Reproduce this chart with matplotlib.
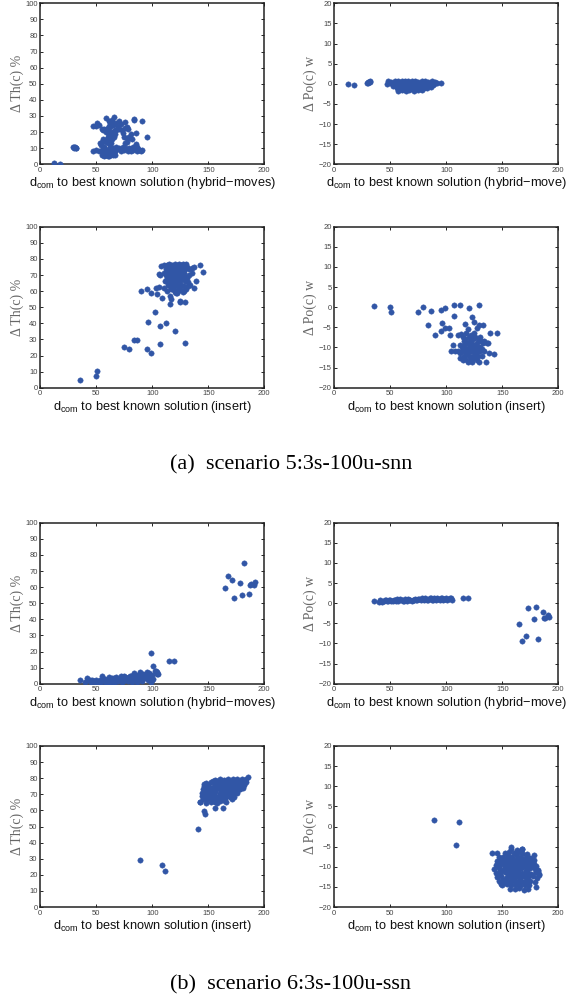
import matplotlib
matplotlib.use("Agg")
import matplotlib.pyplot as plt

plt.rcParams['mathtext.fontset'] = 'custom'
plt.rcParams['mathtext.rm'] = 'Liberation Sans'
plt.rcParams['mathtext.it'] = 'Liberation Sans'

# ---------------- data: scenario 5, hybrid-moves ----------------
a_hyb_th_x = [12, 18, 29.5, 30, 31, 32, 30.5, 31.5,
              47, 50, 52, 47, 50, 51, 52,
              55, 56, 57, 58, 59, 60, 61, 62, 63, 64, 65, 66, 62, 63, 64, 65, 60, 61, 58, 59, 60, 62, 63, 64,
              66, 67, 68, 69, 70, 56, 55, 57, 54, 53, 59, 61, 64, 66, 62, 67, 68,
              70, 72, 73, 74, 75, 76, 77, 78, 76, 77, 79, 80, 82, 76, 77, 81, 84, 84, 91, 95, 85, 85, 86, 83,
              55, 57, 59, 61, 63, 65, 66, 67, 69, 70, 72, 73, 74, 75, 77, 78, 80, 81, 83, 84, 86, 87, 88, 90,
              91, 62, 64, 68, 76, 79,
              55, 56, 57, 58, 59, 60, 61, 62, 63, 64, 65, 66, 67, 57, 60, 58, 62, 64]
a_hyb_th_y = [0.5, 0.3, 10.8, 10.3, 10.6, 10.1, 11, 10.4,
              8, 9, 8.5, 24, 24, 25.5, 24.5,
              22, 21.5, 22, 21, 20, 22.5, 24, 23, 25, 26, 24.5, 25, 20, 18, 19, 20, 17, 18.5, 15, 14, 13, 14.5, 13, 16,
              17, 19, 21, 23, 22, 16, 14, 11, 12, 13.5, 28.5, 27, 27.5, 29.5, 26, 21, 25.5,
              27, 25, 21, 19.5, 17, 22.5, 23, 22, 26.5, 16.5, 17, 16.5, 16, 13.5, 14, 19, 27.5, 28.3, 27.2, 17.2, 19.7, 12.5, 11, 10.5,
              9, 10, 8.5, 9.5, 8, 10, 9, 8.5, 9.5, 10, 8.5, 9.5, 10.5, 9, 9.5, 8.5, 9.5, 8, 9, 10, 8.5, 9.5, 9, 8.5,
              8.8, 10.5, 9, 10.5, 10, 10,
              5.5, 6.5, 5, 6, 5.5, 7, 5, 6, 7.5, 6.5, 5.5, 7, 6, 7.5, 5, 8, 8, 7]

a_hyb_po_x = [12, 18, 29, 30, 31, 32, 30.5, 31.5,
              48, 51, 54, 57, 60, 63, 66, 69, 72, 75, 78, 81, 84, 87, 90,
              47, 50, 53, 56, 59, 62, 65, 68, 71, 74, 77, 80, 83, 86, 89, 92,
              52, 55, 58, 61, 64, 67, 70, 73, 76, 79, 82, 85, 88,
              56, 59, 62, 65, 68, 71, 74, 77, 80, 83, 86,
              57, 60, 64, 67, 71, 75, 78,
              58, 61, 63, 66, 69, 72, 74, 77, 65, 70, 62, 68, 73, 79, 95]
a_hyb_po_y = [-0.1, -0.4, 0.2, 0.5, 0.4, 0.6, 0.3, 0.5,
              0.6, 0.5, 0.7, 0.6, 0.8, 0.7, 0.6, 0.8, 0.7, 0.5, 0.7, 0.6, 0.5, 0.6, 0.4,
              0.0, 0.1, -0.1, 0.0, 0.1, -0.1, 0.0, 0.2, -0.1, 0.0, 0.1, -0.2, 0.0, 0.1, -0.1, 0.3,
              -0.5, -0.6, -0.7, -0.5, -0.6, -0.7, -0.6, -0.5, -0.7, -0.6, -0.5, -0.6, -0.4,
              -1.1, -1.2, -1.3, -1.1, -1.2, -1.3, -1.1, -1.2, -1.0, -1.1, -0.9,
              -1.7, -1.6, -1.8, -1.6, -1.7, -1.5, -1.6,
              -0.9, -1.4, -0.3, -0.8, -0.9, -1.4, -0.3, -0.8, 0.3, 0.3, 0.4, -0.3, 0.4, -0.3, 0.2]

# ---------------- data: scenario 5, insert ----------------
a_ins_th_x = [35, 50, 51, 75, 79, 84, 86, 95, 99, 107, 96, 102, 107, 112, 120, 129,
              90, 95, 99, 103, 104, 106, 109, 116, 117, 116, 125, 125, 129, 113, 110,
              108, 110, 112, 113, 114, 115, 116, 117, 118, 119, 120, 121, 122, 123, 124, 125, 126, 127, 128, 129,
              130, 131, 133, 135, 137, 143, 145, 139, 137, 134, 132, 130, 128, 126, 124, 122, 120, 118, 116,
              114, 112, 110, 107, 106, 111, 112, 113, 115, 117, 119, 121, 123, 125, 127, 129, 131, 133, 135,
              114, 116, 118, 120, 122, 124, 126, 128, 130, 132, 117, 119, 121, 123, 125, 127, 120, 122, 128,
              115, 119, 123, 127, 118, 122, 126, 121, 125, 117]
a_ins_th_y = [4.5, 7.5, 10.5, 25, 24, 29.5, 29.5, 24, 21.5, 27, 41, 47, 38.5, 40, 35, 27.5,
              60, 61, 59, 62, 58, 62.5, 56, 52, 55, 57, 53, 54, 53.5, 60, 62,
              75.5, 76, 74, 76.5, 75, 77, 76, 74.5, 76.5, 75, 77, 75.5, 74, 76, 77, 75, 76.5, 77, 75.5, 74,
              77, 75, 73.5, 74.5, 75, 76.3, 72, 66, 62, 64, 65.5, 69, 71, 72, 70, 72, 70, 72, 70.5,
              72, 70, 71.5, 70, 70.8, 66, 66.5, 68, 67, 68.5, 67, 66, 67.5, 66, 68, 66.5, 68, 70, 71,
              64, 63, 64.5, 63, 64, 62.5, 64, 63, 61, 63, 61, 60.5, 59, 60, 61, 59.5, 59.5, 59, 60,
              73, 73.5, 72.5, 73, 69, 68.5, 69.5, 71, 70.5, 65.5]

a_ins_po_x = [35, 50, 51, 75, 79, 86, 84, 90, 95, 96, 95, 99, 99, 102, 103, 107, 112, 120, 129,
              107, 117, 119, 123, 125, 127, 129, 133, 139, 145, 143, 135, 104, 106, 108, 110, 113,
              115, 117, 118, 119, 120, 121, 122, 124, 125, 126, 127, 128, 130, 131, 133, 134, 136, 137,
              112, 114, 116, 118, 120, 122, 124, 126, 128, 130, 132, 134,
              110, 112, 114, 116, 118, 120, 122, 124, 126, 128, 130, 132,
              112, 115, 117, 119, 121, 123, 125, 127, 129, 138, 116, 119, 123, 127, 121, 125, 117, 129]
a_ins_po_y = [0.2, 0, -1.3, -1.3, 0, -1, -4.3, -6.8, -0.8, -4, -6, -0.2, -5.1, -5.1, -7, 0.6, 0.6, -0.3, 0.5,
              -2.3, -4.2, -5.4, -2.5, -3.7, -5.2, -4.5, -4.3, -6.4, -6.4, -11.7, -13.6, -10.9, -9.4, -11, -6.8, -6.6,
              -7.5, -8, -6.5, -9, -7.5, -8.5, -7, -8, -6.3, -7.5, -9, -8, -7.5, -8.5, -9, -8.5, -8.8, -9,
              -9.5, -10, -9.5, -10.5, -10, -9.8, -10.5, -10, -10.8, -9.8, -10.5, -11,
              -11, -11.5, -11, -12, -11.5, -12, -11, -12, -11.5, -12, -11, -12,
              -12.5, -13, -12.8, -13.5, -13, -13.5, -12.7, -13.2, -13.6, -11.5, -8.5, -11, -9.2, -10.3, -10.8, -9.3, -10.7, -10.2]

# ---------------- data: scenario 6, hybrid-moves ----------------
b_hyb_th_x = [35, 99, 101, 103, 104, 105, 115, 119,
              40, 42, 43, 45, 46, 48, 50, 51, 52, 53, 54, 55, 56, 57, 58, 59, 60, 61, 62, 63, 64, 65,
              66, 67, 68, 69, 70, 71, 72, 73, 74, 75, 76, 77, 78, 79, 80, 81, 82, 83, 84, 85, 86, 87,
              88, 89, 90, 91, 92, 93, 94, 95, 96, 97, 98, 99, 100, 101, 102, 104, 60,
              44, 49, 55, 58, 62, 64, 67, 70, 73, 76, 79, 82, 85, 88, 91, 94, 97, 100, 68, 74, 80, 86, 92, 98,
              165, 168, 171, 173, 178, 180, 182, 186, 187, 188, 191, 192]
b_hyb_th_y = [2.5, 19, 11, 8, 7, 6, 14, 14,
              1, 3.5, 2, 1, 2.5, 1.5, 2, 0.5, 1, 2.5, 1, 5, 3, 2, 1.5, 0.5, 2.5, 4, 1, 3, 2, 1,
              3.5, 2, 4, 1.5, 3, 2, 4.5, 1, 3, 5, 2, 3.5, 1.5, 4, 2.5, 5, 1, 3, 6.5, 4, 2, 5.5,
              3, 7, 4.5, 1.5, 6, 3.5, 5, 7.5, 2.5, 6, 4, 1, 5.5, 3, 8, 6, 0.5,
              2, 1, 2, 3, 2, 3.5, 1, 2, 3.5, 4, 2.5, 4.5, 2.5, 5, 3, 4, 6.5, 2, 3, 1.5, 5, 1, 4.5, 5.5,
              59.5, 67, 64.5, 53.5, 62.5, 55, 75, 56, 61.5, 62, 61, 63]

b_hyb_po_x = [35, 115, 119,
              40, 42, 44, 46, 48, 50, 52, 54, 56, 58, 60, 62, 64, 66, 68, 70, 72, 74, 76, 78, 80, 82, 84,
              86, 88, 90, 92, 94, 96, 98, 100, 102, 104,
              41, 43, 45, 47, 49, 51, 53, 55, 57, 59, 61, 63, 65, 67, 69, 71, 73, 75, 77, 79, 81, 83, 85,
              87, 89, 91, 93, 95, 97, 99, 101, 103, 105,
              165, 168, 171, 173, 178, 180, 182, 186, 187, 188, 191, 192]
b_hyb_po_y = [0.6, 1.3, 1.2,
              0.4, 0.6, 0.5, 0.8, 0.6, 0.9, 0.6, 0.8, 1.0, 0.7, 0.9, 0.6, 0.8, 1.0, 0.7, 0.9, 1.1, 0.8, 1.0, 1.2, 0.8, 1.1, 0.9,
              1.2, 0.9, 1.1, 1.3, 0.9, 1.2, 1.0, 1.4, 1.1, 1.2,
              0.7, 0.4, 0.9, 0.5, 0.8, 0.5, 0.9, 0.6, 0.5, 1.0, 0.6, 1.0, 0.6, 0.9, 0.6, 0.7, 0.8, 1.1, 0.7, 1.0, 1.2, 0.7, 1.2,
              0.8, 1.2, 0.8, 1.0, 1.3, 0.8, 1.1, 0.9, 1.3, 0.9,
              -5.1, -9.5, -8.2, -1.1, -3.9, -0.9, -8.8, -2.3, -3.7, -3.6, -3.0, -3.4]

# ---------------- data: scenario 6, insert ----------------
b_ins_th_x = [89, 109, 111, 141, 146, 147, 146, 146, 143, 156, 163, 185, 176,
              156, 160, 164, 168, 172, 176, 180, 184,
              148, 152, 156, 160, 164, 168, 172, 176, 180, 184,
              146, 150, 154, 158, 162, 166, 170, 174, 178, 182,
              145, 149, 153, 157, 161, 165, 169, 173, 177, 181,
              144, 148, 152, 156, 160, 164, 168, 172, 176,
              144, 148, 152, 156, 160, 164, 168, 172,
              145, 149, 153, 157, 161, 165, 169,
              143, 148, 152, 156, 160, 164,
              154, 158, 162, 166, 170, 174, 178, 150, 158, 166, 174, 182, 151, 159, 167, 175, 147, 155, 163, 171,
              146, 150, 154, 162, 170, 178, 149, 157, 165, 173, 180, 155, 163, 171, 158, 166]
b_ins_th_y = [29, 25.8, 22.5, 48.5, 59.5, 58, 76.5, 73.5, 65, 61.5, 61.3, 80.5, 70.5,
              78.8, 79.3, 79, 79.5, 79.2, 79.6, 79.4, 79.7,
              77, 77.4, 76.8, 77.2, 77.5, 76.9, 77.3, 77.6, 77.1, 77.8,
              75, 75.3, 74.8, 75.4, 75.1, 74.9, 75.3, 75.5, 75.2, 75.6,
              73, 72.8, 73.2, 73.1, 72.9, 73.3, 73, 73.4, 73.6, 74,
              71, 71.2, 70.8, 71.3, 71, 71.2, 71.4, 71.6, 72,
              69, 68.8, 69.2, 69, 69.3, 69.5, 69.8, 70.2,
              67, 66.8, 67.2, 67.1, 67.4, 67.6, 68.2,
              65, 64.5, 65.2, 65.5, 66, 66.5,
              78, 78.2, 78, 78.3, 78.1, 78.4, 78.5, 76, 76, 76.2, 76.4, 76.6, 74, 74.1, 74.3, 74.5, 72, 72.1, 72.2, 72.4,
              70, 70, 70.1, 70.2, 70.5, 73.5, 68, 68.1, 68.3, 68.6, 75.5, 66, 66.2, 67, 64.5, 65.5]

b_ins_po_x = [89, 111, 109, 141, 145, 158, 168, 178, 183, 180, 149,
              158, 163, 168,
              152, 156, 160, 164, 168, 172,
              147, 151, 155, 159, 163, 167, 171, 175,
              145, 149, 153, 157, 161, 165, 169, 173, 177,
              144, 148, 152, 156, 160, 164, 168, 172, 176, 180,
              143, 147, 151, 155, 159, 163, 167, 171, 175, 179, 182,
              144, 148, 152, 156, 160, 164, 168, 172, 176, 180, 183,
              145, 149, 153, 157, 161, 165, 169, 173, 177, 181,
              147, 151, 155, 159, 163, 167, 171, 175, 179,
              150, 154, 158, 162, 166, 170, 174,
              157, 161, 165, 169, 173,
              150, 154, 158, 162, 166, 170, 174, 178, 152, 156, 160, 164, 168, 172, 176,
              155, 159, 163, 167, 171, 149, 153, 157, 161, 165, 169, 173,
              146, 150, 154, 158, 162, 166, 170, 174, 178, 182, 148, 156, 164, 172, 180, 160, 166]
b_ins_po_y = [1.5, 1.1, -4.7, -6.6, -6.6, -5, -5.5, -7, -12, -15, -14.3,
              -5.6, -5.8, -5.5,
              -6.5, -6.4, -6.7, -6.3, -6.6, -6.8,
              -7.5, -7.6, -7.3, -7.7, -7.4, -7.6, -7.2, -7.8,
              -8.5, -8.4, -8.7, -8.3, -8.6, -8.5, -8.8, -8.4, -8.6,
              -9.5, -9.6, -9.3, -9.7, -9.4, -9.6, -9.5, -9.3, -9.7, -9.8,
              -10.5, -10.4, -10.7, -10.3, -10.6, -10.5, -10.4, -10.7, -10.3, -10.6, -10.8,
              -11.5, -11.6, -11.3, -11.7, -11.4, -11.6, -11.5, -11.3, -11.7, -11.4, -11.8,
              -12.5, -12.4, -12.7, -12.3, -12.6, -12.5, -12.4, -12.6, -12.3, -12.7,
              -13.5, -13.4, -13.6, -13.3, -13.7, -13.5, -13.4, -13.6, -13.8,
              -14.5, -14.4, -14.6, -14.3, -14.7, -14.5, -14.6,
              -15.5, -15.6, -15.4, -15.7, -15.5,
              -8, -8.1, -7.9, -8.2, -8, -8.1, -7.9, -8.2, -10, -10.1, -9.9, -10.2, -10, -10.1, -9.9,
              -12, -12.1, -11.9, -12.2, -12, -14, -14.1, -13.9, -14.2, -14, -14.1, -13.9,
              -9, -9.1, -9, -8.9, -9.2, -9, -9.1, -8.9, -9.2, -11, -11, -11.1, -10.9, -11, -11.2, -13, -13]

x_ticks = [0, 50, 100, 150, 200]
th_ticks = [0, 10, 20, 30, 40, 50, 60, 70, 80, 90, 100]
po_ticks = [-20, -15, -10, -5, 0, 5, 10, 15, 20]

label_hyb_th = "d$_{\\rm com}$ to best known solution (hybrid\u2212moves)"
label_hyb_po = "d$_{\\rm com}$ to best known solution (hybrid\u2212move)"
label_ins = "d$_{\\rm com}$ to best known solution (insert)"
ylab_th = "\u0394 Th(c) %"
ylab_po = "\u0394 Po(c) w"
captions = ["(a)  scenario 5:3s-100u-snn", "(b)  scenario 6:3s-100u-ssn"]

W, H = 583, 1001
fig = plt.figure(figsize=(W / 100, H / 100), dpi=100)

color = '#3156a6'
col_left, col_right, ax_w = 40.3, 334.3, 224
tops = [3.3, 226.7, 522.7, 746]
ax_h = 161


def make_ax(left, top, xs, ys, ylim, yticks, xlabel, ylabel):
    ax = fig.add_axes([left / W, 1 - (top + ax_h) / H, ax_w / W, ax_h / H])
    ax.scatter(xs, ys, s=15, c=color, edgecolors=color, linewidths=0.3, zorder=3)
    ax.set_xlim(0, 200)
    ax.set_ylim(*ylim)
    ax.set_xticks(x_ticks)
    ax.set_yticks(yticks)
    ax.tick_params(direction='in', top=True, right=True, length=2.5, width=0.6,
                   labelsize=5.5, labelcolor='#444444', pad=2)
    ax.set_xticklabels([str(t) for t in x_ticks], family='Liberation Sans')
    ax.set_yticklabels([str(t).replace('-', '\u2212') for t in yticks], family='Liberation Sans')
    for sp in ax.spines.values():
        sp.set_linewidth(1.1)
        sp.set_color('#222222')
    ax.set_xlabel(xlabel, fontsize=9.2, family='Liberation Sans', labelpad=1, color='#111111')
    ax.set_ylabel(ylabel, fontsize=10, family='Liberation Serif', labelpad=1, color='#666666')
    return ax


make_ax(col_left, tops[0], a_hyb_th_x, a_hyb_th_y, (0, 100), th_ticks, label_hyb_th, ylab_th)
make_ax(col_right, tops[0], a_hyb_po_x, a_hyb_po_y, (-20, 20), po_ticks, label_hyb_po, ylab_po)
make_ax(col_left, tops[1], a_ins_th_x, a_ins_th_y, (0, 100), th_ticks, label_ins, ylab_th)
make_ax(col_right, tops[1], a_ins_po_x, a_ins_po_y, (-20, 20), po_ticks, label_ins, ylab_po)
make_ax(col_left, tops[2], b_hyb_th_x, b_hyb_th_y, (0, 100), th_ticks, label_hyb_th, ylab_th)
make_ax(col_right, tops[2], b_hyb_po_x, b_hyb_po_y, (-20, 20), po_ticks, label_hyb_po, ylab_po)
make_ax(col_left, tops[3], b_ins_th_x, b_ins_th_y, (0, 100), th_ticks, label_ins, ylab_th)
make_ax(col_right, tops[3], b_ins_po_x, b_ins_po_y, (-20, 20), po_ticks, label_ins, ylab_po)

fig.text(291 / W, 1 - 465 / H, captions[0], ha='center', va='center', fontsize=16, family='Liberation Serif')
fig.text(291 / W, 1 - 985 / H, captions[1], ha='center', va='center', fontsize=16, family='Liberation Serif')

fig.savefig('out.png', dpi=100)
